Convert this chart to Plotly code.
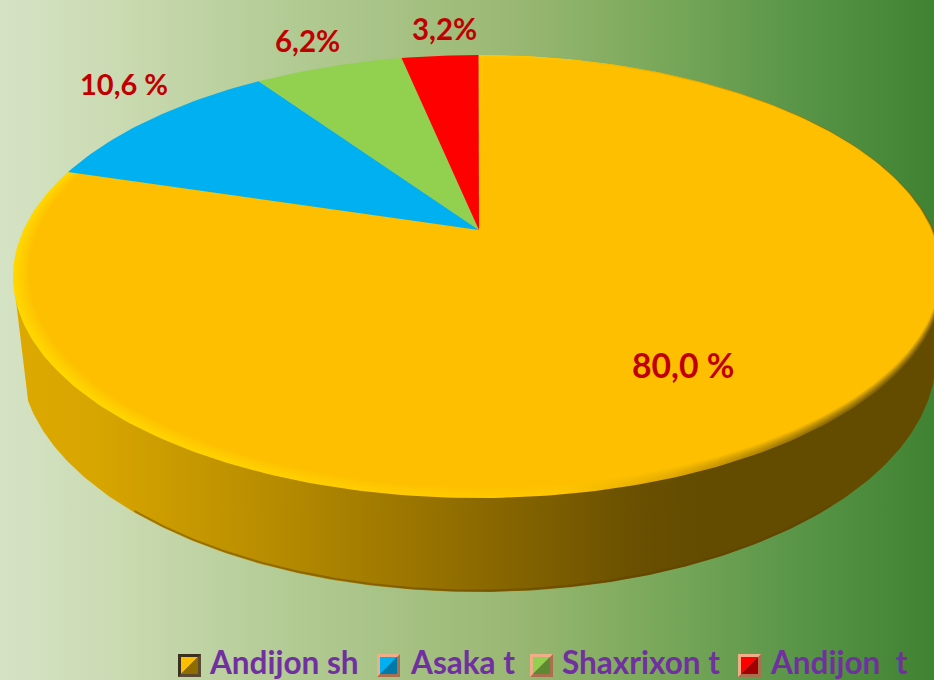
import math
import numpy as np
import plotly.graph_objects as go

# ---- data ----
CATEGORIES = ["Andijon sh", "Asaka t", "Shaxrixon t", "Andijon  t"]
VALUES = [80.0, 10.6, 6.2, 3.2]
LABELS = ["80,0 %", "10,6 %", "6,2%", "3,2%"]
COLORS = ["#FDBF00", "#00B0F0", "#92D050", "#FF0000"]
DARK = ["#8F6C00", "#0078A8", "#5C8A30", "#A00000"]
FRAMES = [("#3B3020", "#5A4A30"), ("#F0AE88", "#A8704E"), ("#F0AE88", "#A8704E"), ("#F0AE88", "#A8704E")]

W, H = 934, 680
CX, CY, RX, RY = 478.5, 276.5, 465.5, 221.5      # top face
BX, BY, BRX, BRY = 478.0, 357.0, 458.0, 235.0    # bottom edge
K = 0.825                                        # perspective of the tilted disc
APEX_X, APEX_Y = 479.0, 230.0


def persp(phi):
    """True clockwise pie angle -> parameter angle on the drawn ellipse."""
    return 2 * np.arctan2(K * np.sin(phi / 2), np.cos(phi / 2))


def ell(t, cx=CX, cy=CY, rx=RX, ry=RY):
    return cx + rx * np.sin(t), cy - ry * np.cos(t)


def wedge(a0, a1, cx=CX, cy=CY, rx=RX, ry=RY):
    phi = np.linspace(a0, a1, max(int((a1 - a0) * 60), 6))
    x, y = ell(persp(phi), cx, cy, rx, ry)
    return [APEX_X, *x, APEX_X], [APEX_Y, *y, APEX_Y]


def mix(c1, c2, f):
    a = [int(c1[i:i + 2], 16) for i in (1, 3, 5)]
    b = [int(c2[i:i + 2], 16) for i in (1, 3, 5)]
    return "#%02X%02X%02X" % tuple(round(p + (q - p) * f) for p, q in zip(a, b))


def scale(stops, toward=None, f=0.0):
    return [[s, mix(c, toward, f) if toward else c] for s, c in stops]


fig = go.Figure()

def add(x, y, color=None, grad=None):
    kw = {}
    if grad:
        kw["fillgradient"] = dict(type="horizontal", colorscale=grad, start=0, stop=W)
    else:
        kw["fillcolor"] = color
    fig.add_trace(go.Scatter(x=x, y=y, mode="lines", fill="toself", line=dict(width=0),
                             hoverinfo="skip", showlegend=False, **kw))


# background
BG = [[0, "#D5E3C5"], [0.13, "#CADAB1"], [0.32, "#B1CA92"], [0.55, "#9AB873"],
      [0.68, "#7FAB5E"], [0.85, "#5A9648"], [1, "#3F8232"]]
add([0, W, W, 0, 0], [0, 0, H, H, 0], grad=BG)

# side wall
WALL = [[0, "#DEAA00"], [0.11, "#D7A500"], [0.32, "#B28800"], [0.5, "#8F6C00"],
        [0.68, "#6A5000"], [0.75, "#634C00"], [1, "#634C00"]]
tb = np.linspace(math.pi * 0.5, math.pi * 1.44, 200)
xb, yb = ell(tb, BX, BY, BRX, BRY)
wx = [CX + RX, *xb, CX - RX + 1, CX + RX]
wy = [CY, *yb, CY + 8, CY]
add(wx, wy, grad=WALL)
tl = np.linspace(math.pi * 0.72, math.pi * 1.27, 160)
xl, yl = ell(tl, BX, BY, BRX, BRY)
fig.add_trace(go.Scatter(x=xl, y=yl - 1.5, mode="lines", line=dict(width=2, color="rgba(95,65,0,0.45)"),
                         hoverinfo="skip", showlegend=False))

# top face wedges
fracs = np.cumsum([0] + VALUES) / sum(VALUES) * 2 * math.pi
RIM = [[0, "#FFD800"], [0.3, "#FFD000"], [0.6, "#FFC600"], [0.72, "#E0A800"], [0.88, "#8A6A00"], [1, "#6A5000"]]
N = 14
for i in range(N):
    add(*wedge(fracs[0], fracs[1], CX + 0.44 * i, CY - 0.3 * i, RX - 0.72 * i, RY - 0.5 * i),
        grad=scale(RIM, COLORS[0], (i / N) ** 1.2))
add(*wedge(fracs[0], fracs[1], CX + 0.44 * N, CY - 0.3 * N, RX - 0.72 * N, RY - 0.5 * N), color=COLORS[0])
for j in range(1, 4):
    add(*wedge(fracs[j], fracs[j + 1]), color=COLORS[j])

annotations = []
LABEL_POS = [(683, 365, 33.7), (124, 83, 29), (307, 40, 29.5), (444, 28, 29.5)]
for text, (x, y, size) in zip(LABELS, LABEL_POS):
    annotations.append(dict(x=x, y=y, xref="x", yref="y", text=text, showarrow=False,
                            font=dict(family="Lato", size=size, color="#C00000", weight="bold")))

# legend
SW_X = [178, 377, 530, 738]
TX_X = [207, 408, 560, 768]
SW_Y0, SW_S = 654, 23
shapes = []
for sx, col, dk, (f1, f2) in zip(SW_X, COLORS, DARK, FRAMES):
    x0, x1, y0, y1 = sx, sx + SW_S, SW_Y0, SW_Y0 + SW_S
    m = 3
    shapes.append(dict(type="rect", xref="x", yref="y", x0=x0, x1=x1, y0=y0, y1=y1,
                       fillcolor=f2, line=dict(width=0), layer="above"))
    shapes.append(dict(type="path", xref="x", yref="y", fillcolor=f1, line=dict(width=0), layer="above",
                       path=f"M{x0},{y0} L{x1},{y0} L{x1-m},{y0+m} L{x0+m},{y0+m} L{x0+m},{y1-m} L{x0},{y1} Z"))
    shapes.append(dict(type="path", xref="x", yref="y", fillcolor=col, line=dict(width=0), layer="above",
                       path=f"M{x0+m},{y0+m} L{x1-m},{y0+m} L{x0+m},{y1-m} Z"))
    shapes.append(dict(type="path", xref="x", yref="y", fillcolor=dk, line=dict(width=0), layer="above",
                       path=f"M{x1-m},{y0+m} L{x1-m},{y1-m} L{x0+m},{y1-m} Z"))
for tx, cat in zip(TX_X, CATEGORIES):
    annotations.append(dict(x=tx, y=661.5, xref="x", yref="y", text=cat, showarrow=False, xanchor="left",
                            font=dict(family="Lato", size=31.5, color="#7030A0", weight="bold")))

fig.update_layout(
    width=W, height=H, margin=dict(l=0, r=0, t=0, b=0),
    paper_bgcolor="#FFFFFF", plot_bgcolor="#FFFFFF", showlegend=False,
    xaxis=dict(range=[0, W], visible=False, fixedrange=True),
    yaxis=dict(range=[H, 0], visible=False, fixedrange=True),
    annotations=annotations, shapes=shapes,
)
fig.write_html("out.html", post_script="document.body.style.margin='0';", config=dict(displayModeBar=False))
